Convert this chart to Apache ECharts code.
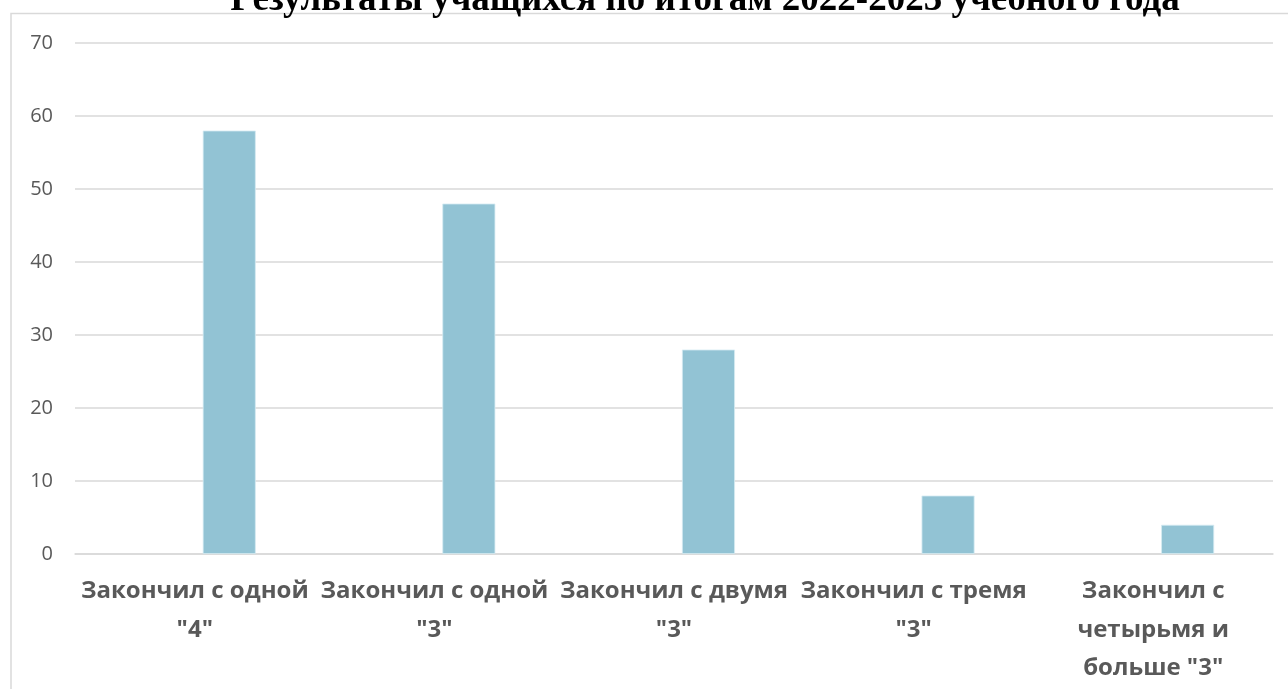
<!DOCTYPE html>
<html>
<head>
<meta charset="utf-8">
<script src="https://cdn.jsdelivr.net/npm/echarts@6/dist/echarts.min.js"></script>
<style>
html,body{margin:0;padding:0;background:#fff;}
#c{width:1288px;height:689px;}
</style>
</head>
<body>
<div id="c"></div>
<script>
const titleText = 'Результаты учащихся по итогам 2022-2023 учебного года';
const categories = [
  'Закончил с одной\n"4"',
  'Закончил с одной\n"3"',
  'Закончил с двумя\n"3"',
  'Закончил с тремя\n"3"',
  'Закончил с\nчетырьмя и\nбольше "3"'
];
const values = [58, 48, 28, 8, 4];
const emptySeriesValues = [null, null, null, null, null];
const yMin = 0, yMax = 70, yStep = 10;

const chart = echarts.init(document.getElementById('c'), null, {renderer: 'canvas'});
chart.setOption({
  backgroundColor: '#ffffff',
  animation: false,
  graphic: [
    {type: 'rect', z: 0, silent: true,
     shape: {x: 11, y: 13.5, width: 1300, height: 700},
     style: {fill: 'none', stroke: '#d9d9d9', lineWidth: 1.5}},
    {type: 'text', z: 10, silent: true, x: 705, y: 19,
     style: {text: titleText, align: 'center', verticalAlign: 'bottom',
       font: 'bold 37px "Liberation Serif", "DejaVu Serif", serif', fill: '#000000'}}
  ],
  grid: {left: 75, right: 15, top: 43, bottom: 135, containLabel: false},
  xAxis: {
    type: 'category',
    data: categories,
    axisLine: {show: true, lineStyle: {color: '#d9d9d9', width: 1.5}},
    axisTick: {show: false},
    axisLabel: {
      interval: 0, margin: 18,
      color: '#595959', fontFamily: 'Open Sans', fontWeight: 'bold',
      fontSize: 24, lineHeight: 38.5, align: 'center'
    }
  },
  yAxis: {
    type: 'value', min: yMin, max: yMax, interval: yStep,
    axisLine: {show: false}, axisTick: {show: false},
    axisLabel: {color: '#595959', fontFamily: 'Open Sans', fontSize: 20, margin: 22},
    splitLine: {lineStyle: {color: '#d9d9d9', width: 1.5}}
  },
  series: [
    {type: 'bar', data: emptySeriesValues, barWidth: 53, barGap: '30%', silent: true},
    {type: 'bar', data: values, barWidth: 53, barGap: '30%',
     itemStyle: {color: '#92c3d4', borderColor: '#d6ebf2', borderWidth: 0.8}}
  ]
});
</script>
</body>
</html>
